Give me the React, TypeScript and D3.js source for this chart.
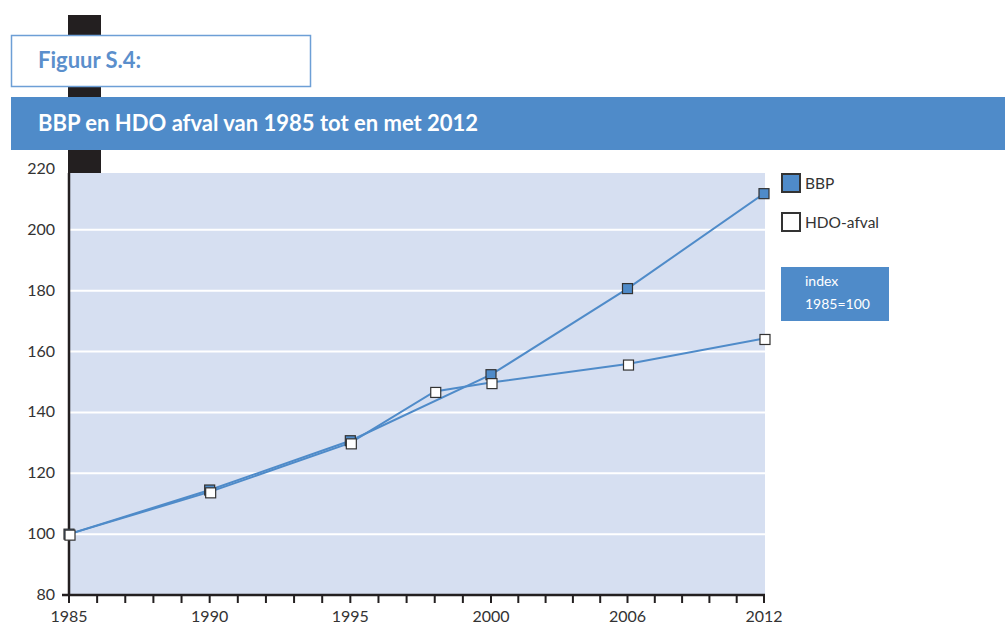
import React, { useEffect, useRef } from "react";
import * as d3 from "d3";

// years on the axis labels; the axis itself has 25 equal slots (15 + 5 + 5)
const tickYears = [1985, 1990, 1995, 2000, 2006, 2012];
const bbpYears = [1985, 1990, 1995, 2000, 2006, 2012];
const bbpValues = [100, 114.5, 130.7, 152.4, 180.7, 211.9];
const hdoYears = [1985, 1990, 1995, 1998, 2000, 2006, 2012];
const hdoValues = [100, 113.9, 130, 146.9, 149.8, 155.9, 164.3];
const yTicks = [80, 100, 120, 140, 160, 180, 200, 220];

const FONT = "Lato, 'Open Sans', sans-serif";
const BLUE = "#4f8bc9";
const DARK = "#333333";

const App = () => {
  const ref = useRef<SVGSVGElement>(null);

  useEffect(() => {
    const svg = d3.select(ref.current);
    svg.selectAll("*").remove();

    const width = 1005;
    const height = 625;
    const margin = { top: 173, left: 69, right: 764, bottom: 595 };

    // year -> slot index (uneven spacing after 2000)
    const slot = d3.scaleLinear().domain([1985, 2000, 2006, 2012]).range([0, 15, 20, 25]);
    const x = d3.scaleLinear().domain([0, 15, 25]).range([margin.left, 491, margin.right]);
    const y = d3.scaleLinear().domain([80, 220]).range([margin.bottom, 169]);
    const px = (yr: number) => x(slot(yr));

    svg.attr("width", width).attr("height", height);

    // decorative black bar
    svg.append("rect").attr("x", 68).attr("y", 15).attr("width", 33).attr("height", 158).attr("fill", "#231f20");

    // figure label box
    svg.append("rect").attr("x", 11.5).attr("y", 35.5).attr("width", 299).attr("height", 51)
      .attr("fill", "#fff").attr("stroke", "#6d9fd6").attr("stroke-width", 1.5);
    svg.append("text").attr("x", 38).attr("y", 68).text("Figuur S.4:")
      .attr("font-family", FONT).attr("font-weight", 700).attr("font-size", 22).attr("fill", "#5b8fcc");

    // title banner
    svg.append("rect").attr("x", 11).attr("y", 97).attr("width", width - 11).attr("height", 53).attr("fill", BLUE);
    svg.append("text").attr("x", 38).attr("y", 131).text("BBP en HDO afval van 1985 tot en met 2012")
      .attr("font-family", FONT).attr("font-weight", 700).attr("font-size", 22).attr("fill", "#fff");

    // plot background
    svg.append("rect").attr("x", margin.left).attr("y", margin.top)
      .attr("width", margin.right + 1 - margin.left).attr("height", margin.bottom - margin.top)
      .attr("fill", "#d6dff1");

    // grid lines
    svg.append("g").selectAll("line").data(yTicks.filter((t) => t > 80 && t < 220)).join("line")
      .attr("x1", margin.left).attr("x2", margin.right + 1)
      .attr("y1", (d) => y(d)).attr("y2", (d) => y(d))
      .attr("stroke", "#fff").attr("stroke-width", 2);

    // y labels
    svg.append("g").selectAll("text").data(yTicks).join("text")
      .attr("x", 55).attr("y", (d) => y(d) + 5).attr("text-anchor", "end")
      .attr("font-family", FONT).attr("font-size", 16).attr("fill", DARK)
      .text((d) => d);

    // axes lines
    svg.append("line").attr("x1", margin.left).attr("x2", margin.left).attr("y1", margin.top).attr("y2", margin.bottom)
      .attr("stroke", "#231f20").attr("stroke-width", 2.5);
    svg.append("line").attr("x1", 62).attr("x2", margin.right + 1).attr("y1", margin.bottom).attr("y2", margin.bottom)
      .attr("stroke", "#231f20").attr("stroke-width", 2.5);

    // x ticks, one per slot
    svg.append("g").selectAll("line").data(d3.range(0, 26)).join("line")
      .attr("x1", (d) => x(d)).attr("x2", (d) => x(d))
      .attr("y1", margin.bottom).attr("y2", margin.bottom + 8)
      .attr("stroke", "#231f20").attr("stroke-width", 2);

    svg.append("g").selectAll("text").data(tickYears).join("text")
      .attr("x", (d) => px(d)).attr("y", 622).attr("text-anchor", "middle")
      .attr("font-family", FONT).attr("font-size", 16).attr("fill", DARK)
      .text((d) => d);

    const line = d3.line<[number, number]>().x((d) => px(d[0])).y((d) => y(d[1]));
    const bbp = bbpYears.map((yr, i) => [yr, bbpValues[i]] as [number, number]);
    const hdo = hdoYears.map((yr, i) => [yr, hdoValues[i]] as [number, number]);

    [bbp, hdo].forEach((s) => {
      svg.append("path").datum(s).attr("d", line).attr("fill", "none")
        .attr("stroke", BLUE).attr("stroke-width", 2);
    });

    const ms = 10;
    svg.append("g").selectAll("rect").data(bbp).join("rect")
      .attr("x", (d) => px(d[0]) - ms / 2).attr("y", (d) => y(d[1]) - ms / 2)
      .attr("width", ms).attr("height", ms)
      .attr("fill", BLUE).attr("stroke", DARK).attr("stroke-width", 1.2);
    svg.append("g").selectAll("rect").data(hdo).join("rect")
      .attr("x", (d) => px(d[0]) - ms / 2 + 1).attr("y", (d) => y(d[1]) - ms / 2 + 1)
      .attr("width", ms).attr("height", ms)
      .attr("fill", "#fff").attr("stroke", DARK).attr("stroke-width", 1.2);

    // legend
    const legend = [
      { label: "BBP", fill: BLUE, y: 173 },
      { label: "HDO-afval", fill: "#fff", y: 212 },
    ];
    const lg = svg.append("g");
    legend.forEach((l) => {
      lg.append("rect").attr("x", 782).attr("y", l.y + 1).attr("width", 18).attr("height", 18)
        .attr("fill", l.fill).attr("stroke", DARK).attr("stroke-width", 2);
      lg.append("text").attr("x", 805).attr("y", l.y + 16).text(l.label)
        .attr("font-family", FONT).attr("font-size", 15.5).attr("fill", DARK);
    });

    // index note
    svg.append("rect").attr("x", 781).attr("y", 267).attr("width", 108).attr("height", 54).attr("fill", BLUE);
    svg.append("text").attr("x", 805).attr("y", 286).text("index")
      .attr("font-family", FONT).attr("font-size", 14).attr("fill", "#fff");
    svg.append("text").attr("x", 805).attr("y", 309).text("1985=100")
      .attr("font-family", FONT).attr("font-size", 14).attr("fill", "#fff");
  }, []);

  return (
    <svg
      ref={ref}
      style={{ position: "absolute", left: 0, top: 0, display: "block", background: "#fff" }}
    ></svg>
  );
};

export default App;
